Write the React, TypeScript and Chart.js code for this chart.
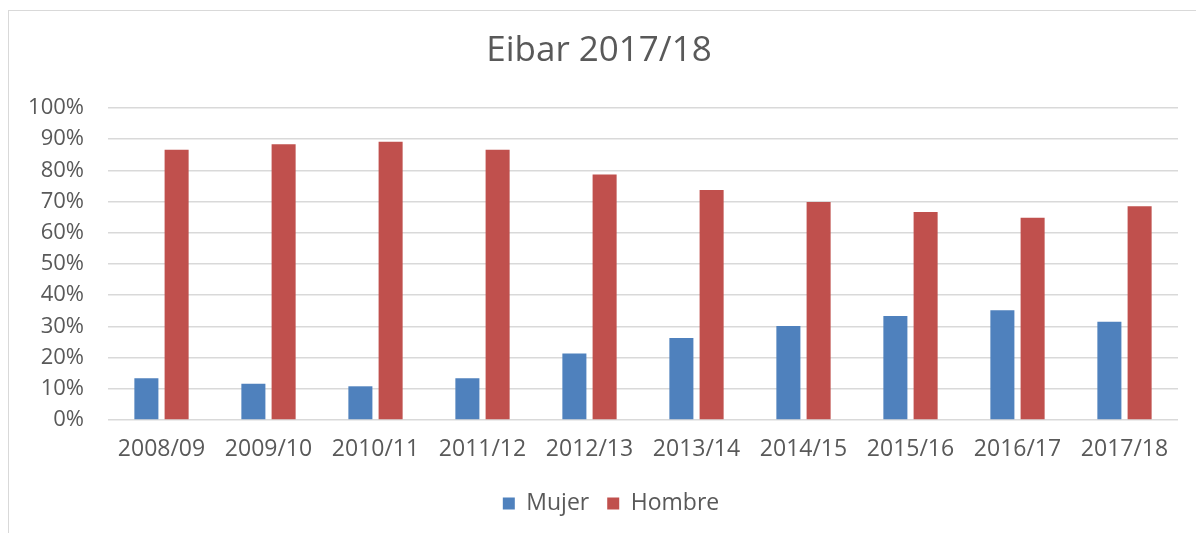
import { useEffect, useRef } from 'react';
import { Chart, registerables } from 'chart.js';

Chart.register(...registerables);

const categories = ['2008/09', '2009/10', '2010/11', '2011/12', '2012/13', '2013/14', '2014/15', '2015/16', '2016/17', '2017/18'];
const mujer = [13.4, 11.6, 10.8, 13.4, 21.3, 26.3, 30.1, 33.3, 35.2, 31.5];
const hombre = [86.6, 88.4, 89.2, 86.6, 78.7, 73.7, 69.9, 66.7, 64.8, 68.5];
const seriesNames = ['Mujer', 'Hombre'];
const titleText = 'Eibar 2017/18';

const FONT = '"Open Sans", "Noto Sans", sans-serif';
const TEXT = '#595959';

const legendShift = {
  id: 'legendShift',
  afterLayout(chart: any) {
    const lg = chart.legend;
    if (lg) {
      lg.left += 12;
      lg.right += 12;
    }
  },
};

export default function App() {
  const ref = useRef<HTMLCanvasElement>(null);

  useEffect(() => {
    const chart = new Chart(ref.current!, {
      type: 'bar',
      data: {
        labels: categories,
        datasets: [
          {
            label: seriesNames[0],
            data: mujer,
            backgroundColor: '#4f81bd',
            borderWidth: 0,
            categoryPercentage: 0.565,
            barPercentage: 0.795,
          },
          {
            label: seriesNames[1],
            data: hombre,
            backgroundColor: '#c0504d',
            borderWidth: 0,
            categoryPercentage: 0.565,
            barPercentage: 0.795,
          },
        ],
      },
      plugins: [legendShift],
      options: {
        responsive: false,
        animation: false,
        layout: { padding: { left: 20, right: 18, top: 0, bottom: 8 } },
        plugins: {
          title: {
            display: true,
            text: titleText,
            color: TEXT,
            font: { family: FONT, size: 35, weight: 'normal' },
            padding: { top: 30, bottom: 36 },
          },
          legend: {
            position: 'bottom',
            labels: {
              color: TEXT,
              font: { family: FONT, size: 23 },
              boxWidth: 12,
              boxHeight: 12,
              padding: 18,
            },
          },
          tooltip: { enabled: false },
        },
        scales: {
          x: {
            grid: { display: false },
            border: { display: false },
            ticks: {
              color: TEXT,
              font: { family: FONT, size: 23 },
              padding: 8,
              maxRotation: 0,
              autoSkip: false,
            },
            afterFit: (s: any) => {
              s.height = 54;
            },
          },
          y: {
            min: 0,
            max: 100,
            border: { display: false },
            grid: { color: '#d9d9d9', lineWidth: 1.5, drawTicks: false },
            ticks: {
              stepSize: 10,
              color: TEXT,
              font: { family: FONT, size: 22 },
              padding: 24,
              callback: (v: any) => v + '%',
            },
            afterFit: (s: any) => {
              s.width = 88;
            },
          },
        },
      },
    });
    return () => chart.destroy();
  }, []);

  return (
    <div style={{ position: 'fixed', left: 0, top: 0, width: 1196, height: 533, overflow: 'hidden', background: '#fff' }}>
      <div style={{ position: 'absolute', left: 8, top: 10, width: 1400, height: 800, border: '1px solid #d9d9d9' }} />
      <canvas ref={ref} width={1196} height={533} style={{ position: 'absolute', left: 0, top: 0, width: 1196, height: 533 }} />
    </div>
  );
}
